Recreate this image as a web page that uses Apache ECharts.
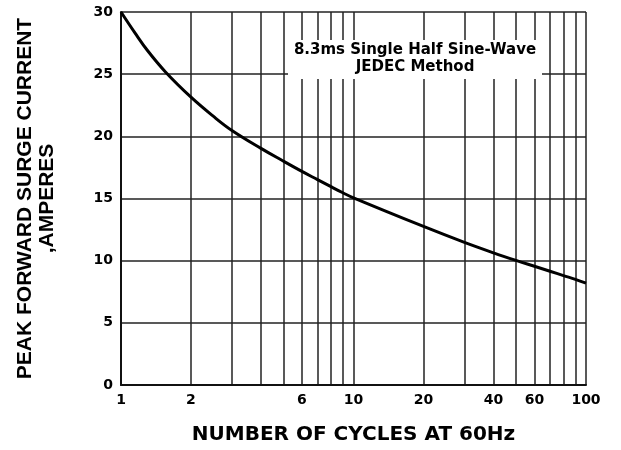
<!DOCTYPE html>
<html>
<head>
<meta charset="utf-8">
<script src="https://cdn.jsdelivr.net/npm/echarts@6/dist/echarts.min.js"></script>
<style>html,body{margin:0;padding:0;background:#fff}#c{width:621px;height:450px}</style>
</head>
<body>
<div id="c"></div>
<script>
const cycles = [1, 1.15, 1.3, 1.55, 2, 2.5, 3, 4, 5, 6, 7, 8, 9, 10, 20, 30, 40, 50, 60, 70, 80, 90, 100];
const current = [30, 28.3, 26.9, 25.2, 23.15, 21.6, 20.47, 19.03, 18.0, 17.18, 16.52, 15.95, 15.46, 15.05, 12.75, 11.47, 10.63, 10.02, 9.55, 9.15, 8.8, 8.5, 8.2];
const xGridValues = [1, 2, 3, 4, 5, 6, 7, 8, 9, 10, 20, 30, 40, 50, 60, 70, 80, 90, 100];
const xTickLabels = [1, 2, 6, 10, 20, 40, 60, 100];
const yTickLabels = [0, 5, 10, 15, 20, 25, 30];
const noteLines = ['8.3ms Single Half Sine-Wave', 'JEDEC Method'];
const xTitle = 'NUMBER OF CYCLES AT 60Hz';
const yTitle = 'PEAK FORWARD SURGE CURRENT\n,AMPERES';

const chart = echarts.init(document.getElementById('c'));
const gridColor = '#222';
chart.setOption({
  animation: false,
  grid: { left: 121, right: 35, top: 12, bottom: 64 },
  xAxis: {
    type: 'log', logBase: 10, min: 1, max: 100,
    axisLine: { show: true, lineStyle: { color: '#111', width: 2 } },
    axisTick: { show: false, customValues: xGridValues },
    axisLabel: { customValues: xTickLabels, color: '#000', fontFamily: 'DejaVu Sans', fontWeight: 'bold', fontSize: 14, margin: 8 },
    splitLine: { show: true, lineStyle: { color: gridColor, width: 1.5 } },
    minorTick: { show: false }, minorSplitLine: { show: false },
    name: xTitle, nameLocation: 'middle', nameGap: 40,
    nameTextStyle: { color: '#000', fontFamily: 'DejaVu Sans', fontWeight: 'bold', fontSize: 20 }
  },
  yAxis: {
    type: 'value', min: 0, max: 30, interval: 5,
    axisLine: { show: true, lineStyle: { color: '#111', width: 2 } },
    axisTick: { show: false },
    axisLabel: { customValues: yTickLabels, color: '#000', fontFamily: 'DejaVu Sans', fontWeight: 'bold', fontSize: 14, margin: 8 },
    splitLine: { show: true, lineStyle: { color: gridColor, width: 1.5 } },
    name: yTitle, nameLocation: 'middle', nameGap: 63, nameRotate: 90,
    nameTextStyle: { color: '#000', fontFamily: 'Liberation Sans', fontWeight: 'bold', fontSize: 21, lineHeight: 22 }
  },
  graphic: [
    { type: 'rect', z: 100, shape: { x: 288, y: 40, width: 254, height: 39 }, style: { fill: '#fff' } },
    { type: 'text', z: 101, x: 415, y: 59, style: { text: noteLines.join('\n'), align: 'center', verticalAlign: 'middle', fill: '#000', font: 'bold 15px "DejaVu Sans"', lineHeight: 17 } }
  ],
  series: [{
    type: 'line', smooth: 0.4, showSymbol: false,
    lineStyle: { color: '#000', width: 3 },
    data: cycles.map((c, i) => [c, current[i]]),
    z: 10
  }]
});
</script>
</body>
</html>
